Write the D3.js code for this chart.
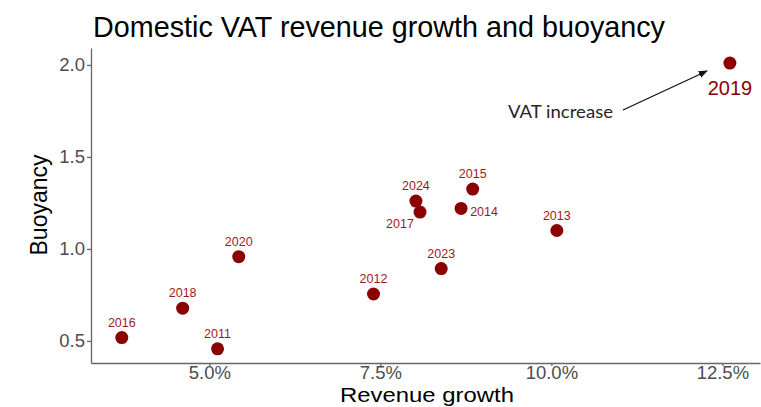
<!DOCTYPE html>
<meta charset="utf-8">
<style>
    html, body {
        margin: 0;
        padding: 0;
        background: #fff;
    }
    svg {
        display: block;
        font-family: "Liberation Sans", Arial, sans-serif;
    }
    .axis path, .axis line {
        stroke: #666;
        stroke-width: 1.3px;
    }
    .axis text {
        fill: #4d4d4d;
        font-size: 18.5px;
    }
</style>
<svg id="chart" width="761" height="407"></svg>
<script src="https://d3js.org/d3.v7.js"></script>
<script>
    // values
    const years = ["2011", "2012", "2013", "2014", "2015", "2016", "2017", "2018", "2019", "2020", "2023", "2024"];
    const growth = [5.12, 7.40, 10.08, 8.68, 8.85, 3.72, 8.08, 4.61, 12.61, 5.43, 8.39, 8.02];
    const buoyancy = [0.457, 0.755, 1.10, 1.22, 1.325, 0.518, 1.20, 0.678, 2.01, 0.958, 0.893, 1.26];
    const xTicks = [5, 7.5, 10, 12.5];
    const yTicks = [0.5, 1.0, 1.5, 2.0];

    // where each year's label goes, relative to its dot
    const placement = {"2014": "right", "2017": "belowLeft", "2019": "big"};

    (function draw() {
        let svg = d3.select("#chart");
        let m = {left: 91, right: 760, top: 48, bottom: 363};

        let x = d3.scaleLinear().domain([3.27, 13.05]).range([m.left, m.right]);
        let y = d3.scaleLinear().domain([0.38, 2.092]).range([m.bottom, m.top]);

        // title
        svg.append("text")
            .attr("x", 93)
            .attr("y", 37)
            .attr("textLength", 572)
            .attr("lengthAdjust", "spacingAndGlyphs")
            .style("font-size", "29px")
            .style("fill", "#000")
            .text("Domestic VAT revenue growth and buoyancy");

        // axes
        svg.append("g")
            .attr("class", "axis")
            .attr("transform", `translate(0,${m.bottom})`)
            .call(d3.axisBottom(x)
                .tickValues(xTicks)
                .tickFormat(d => d.toFixed(1) + "%")
                .tickSize(3)
                .tickSizeOuter(0)
                .tickPadding(0));

        svg.append("g")
            .attr("class", "axis")
            .attr("transform", `translate(${m.left},0)`)
            .call(d3.axisLeft(y)
                .tickValues(yTicks)
                .tickFormat(d3.format(".1f"))
                .tickSize(4)
                .tickSizeOuter(0)
                .tickPadding(2));

        // axis titles
        svg.append("text")
            .attr("x", 427)
            .attr("y", 402)
            .attr("text-anchor", "middle")
            .attr("textLength", 174)
            .attr("lengthAdjust", "spacingAndGlyphs")
            .style("font-size", "20.5px")
            .text("Revenue growth");

        svg.append("text")
            .attr("transform", "translate(47,205) rotate(-90)")
            .attr("text-anchor", "middle")
            .style("font-size", "23px")
            .text("Buoyancy");

        let data = years.map((d, i) => ({year: d, g: growth[i], b: buoyancy[i]}));

        // dots
        svg.append("g")
            .selectAll("circle")
            .data(data)
            .join("circle")
            .attr("cx", d => x(d.g))
            .attr("cy", d => y(d.b))
            .attr("r", 6.5)
            .attr("fill", "#8b0000");

        // year labels
        svg.append("g")
            .selectAll("text")
            .data(data)
            .join("text")
            .attr("x", d => {
                let p = placement[d.year];
                if (p === "right") return x(d.g) + 23;
                if (p === "belowLeft") return x(d.g) - 20;
                return x(d.g);
            })
            .attr("y", d => {
                let p = placement[d.year];
                if (p === "right") return y(d.b) + 8;
                if (p === "belowLeft") return y(d.b) + 16;
                if (p === "big") return y(d.b) + 32;
                return y(d.b) - 11;
            })
            .attr("text-anchor", "middle")
            .style("font-size", d => placement[d.year] === "big" ? "20px" : "12.5px")
            .style("fill", d => placement[d.year] === "big" ? "#8b0000" : "#9e1b1b")
            .text(d => d.year);

        // annotation
        svg.append("defs").append("marker")
            .attr("id", "head")
            .attr("viewBox", "0 0 10 10")
            .attr("refX", 9)
            .attr("refY", 5)
            .attr("markerWidth", 7)
            .attr("markerHeight", 7)
            .attr("orient", "auto")
            .append("path")
            .attr("d", "M0,1L10,5L0,9z")
            .attr("fill", "#111");

        svg.append("line")
            .attr("x1", 623)
            .attr("y1", 110)
            .attr("x2", 707)
            .attr("y2", 71)
            .attr("stroke", "#111")
            .attr("stroke-width", 1.3)
            .attr("marker-end", "url(#head)");

        svg.append("text")
            .attr("x", 508)
            .attr("y", 118)
            .attr("textLength", 105)
            .attr("lengthAdjust", "spacingAndGlyphs")
            .style("font-family", "Lato, 'Open Sans', sans-serif")
            .style("font-size", "17px")
            .style("fill", "#262626")
            .text("VAT increase");
    })();
</script>
